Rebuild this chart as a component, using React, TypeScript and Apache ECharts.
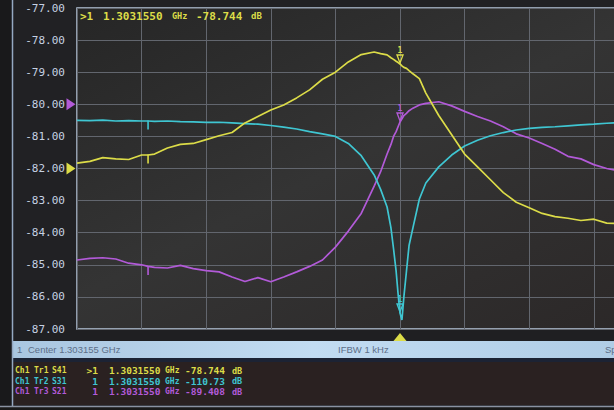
import React, { useEffect, useRef } from "react";
import * as echarts from "echarts";

// Sweep position in horizontal divisions (center = 5 div = 1.303155 GHz)
const freqDiv = [0, 0.2, 0.4, 0.6, 0.8, 1.0, 1.1, 1.2, 1.4, 1.6, 1.8, 2.0, 2.2, 2.4, 2.6, 2.8, 3.0, 3.2, 3.4, 3.6, 3.8, 4.0, 4.2, 4.4, 4.6, 4.7, 4.8, 4.86, 4.9, 4.94, 4.97, 5.0, 5.03, 5.06, 5.1, 5.14, 5.2, 5.3, 5.4, 5.6, 5.8, 6.0, 6.2, 6.4, 6.6, 6.8, 7.0, 7.2, 7.4, 7.6, 7.8, 8.0, 8.2, 8.4];

const s41 = [-81.83, -81.78, -81.66, -81.70, -81.72, -81.58, -81.58, -81.55, -81.36, -81.25, -81.22, -81.10, -80.98, -80.88, -80.58, -80.38, -80.18, -80.02, -79.80, -79.55, -79.22, -79.00, -78.68, -78.45, -78.37, -78.42, -78.46, -78.55, -78.60, -78.66, -78.70, -78.744, -78.80, -78.85, -78.88, -78.95, -79.05, -79.20, -79.65, -80.35, -80.95, -81.55, -81.95, -82.35, -82.75, -83.05, -83.22, -83.40, -83.50, -83.55, -83.62, -83.58, -83.70, -83.72];

const s31 = [-80.50, -80.51, -80.49, -80.52, -80.51, -80.52, -80.52, -80.53, -80.52, -80.54, -80.55, -80.56, -80.56, -80.58, -80.60, -80.62, -80.66, -80.71, -80.77, -80.85, -80.92, -81.00, -81.22, -81.60, -82.20, -82.65, -83.20, -83.85, -84.50, -85.20, -85.90, -86.50, -86.72, -86.00, -85.20, -84.40, -83.85, -82.95, -82.45, -81.95, -81.58, -81.30, -81.12, -80.98, -80.88, -80.80, -80.75, -80.72, -80.70, -80.67, -80.64, -80.62, -80.59, -80.57];

const s21 = [-84.85, -84.80, -84.78, -84.82, -84.95, -85.00, -85.05, -85.08, -85.10, -85.02, -85.12, -85.18, -85.22, -85.38, -85.52, -85.40, -85.53, -85.38, -85.22, -85.05, -84.85, -84.45, -83.95, -83.40, -82.55, -82.10, -81.55, -81.25, -81.00, -80.85, -80.70, -80.55, -80.45, -80.35, -80.28, -80.20, -80.12, -80.02, -79.97, -79.92, -80.05, -80.22, -80.38, -80.52, -80.70, -80.92, -81.05, -81.22, -81.40, -81.62, -81.70, -81.88, -82.00, -82.08];

const yMin = -87;
const yMax = -77;
const marker1Div = 5.0;
const marker2Div = 1.1;
const refS21 = -80;
const refS41 = -82;

const traceNames = ["S41", "S31", "S21"];
const traceIds = ["Tr1", "Tr2", "Tr3"];
const markerIds = [">1", "1", "1"];
const markerFreq = "1.3031550";
const markerVals = ["-78.744", "-110.73", "-89.408"];
const centerText = "Center 1.303155 GHz";
const ifbwText = "IFBW 1 kHz";

const YEL = "#dcdc48";
const CYA = "#3fc6d2";
const MAG = "#b25ad8";
const colors = [YEL, CYA, MAG];

const valueAt = (arr: number[], x: number) => arr[freqDiv.indexOf(x)];

const MONO = '"DejaVu Sans Mono", monospace';

function markerItems(arr: number[], color: string) {
  return [
    {
      coord: [marker1Div, valueAt(arr, marker1Div)],
      symbol: "path://M0,0 L10,0 L5,12 Z",
      symbolSize: [6, 8],
      symbolOffset: [0, -5],
      itemStyle: { color: "rgba(0,0,0,0)", borderColor: color, borderWidth: 1.4 },
      label: { show: true, position: "top", formatter: "1", color, fontSize: 8, fontFamily: MONO, fontWeight: "bold", distance: 0 },
    },
    {
      coord: [marker2Div, valueAt(arr, marker2Div)],
      symbol: "rect",
      symbolSize: [1.6, 9],
      symbolOffset: [0, 4],
      itemStyle: { color },
      label: { show: false },
    },
  ];
}

export default function App() {
  const ref = useRef<HTMLDivElement>(null);
  useEffect(() => {
    const chart = echarts.init(ref.current!, null, { renderer: "svg" });

    const textEls: any[] = [];
    // top marker readout
    const topSegs = [
      { t: ">1", x: 80, f: 11 },
      { t: markerFreq, x: 103, f: 11 },
      { t: "GHz", x: 172, f: 8.5 },
      { t: markerVals[0], x: 196, f: 11 },
      { t: "dB", x: 251, f: 9 },
    ];
    topSegs.forEach((s) =>
      textEls.push({
        type: "text",
        z: 100,
        style: { text: s.t, x: s.x, y: 16, fill: YEL, font: `bold ${s.f}px ${MONO}`, textVerticalAlign: "middle", verticalAlign: "middle" },
      })
    );
    // bottom info rows
    const rowY = [370.5, 381, 391.5];
    traceNames.forEach((nm, i) => {
      const segs = [
        { t: "Ch1", x: 15, a: "left", f: 8 },
        { t: traceIds[i], x: 34, a: "left", f: 8 },
        { t: nm, x: 52, a: "left", f: 8 },
        { t: markerIds[i], x: 98, a: "right", f: 9.5 },
        { t: markerFreq, x: 109, a: "left", f: 9.5 },
        { t: "GHz", x: 165, a: "left", f: 8 },
        { t: markerVals[i], x: 185, a: "left", f: 9.5 },
        { t: "dB", x: 232, a: "left", f: 8.5 },
      ];
      segs.forEach((s) =>
        textEls.push({
          type: "text",
          z: 100,
          style: {
            text: s.t,
            x: s.x,
            y: rowY[i],
            fill: colors[i],
            font: `bold ${s.f}px ${MONO}`,
            textAlign: s.a,
            align: s.a,
            textVerticalAlign: "middle",
            verticalAlign: "middle",
          },
        })
      );
    });

    const statusFont = `9.5px "Liberation Sans", sans-serif`;
    const option: any = {
      animation: false,
      backgroundColor: "#212124",
      grid: {
        show: true,
        left: 77,
        top: 8,
        width: 646,
        height: 321,
        outerBoundsMode: "none",
        containLabel: false,
        backgroundColor: {
          type: "linear",
          x: 0,
          y: 0,
          x2: 1,
          y2: 1,
          colorStops: [
            { offset: 0, color: "#262626" },
            { offset: 0.45, color: "#343434" },
            { offset: 1, color: "#2a2626" },
          ],
        },
        borderColor: "#b8c8dc",
        borderWidth: 1.5,
      },
      xAxis: {
        type: "value",
        min: 0,
        max: 10,
        interval: 1,
        axisLine: { show: false },
        axisTick: { show: false },
        axisLabel: { show: false },
        splitLine: { show: true, lineStyle: { color: "#62666e", width: 1 } },
      },
      yAxis: {
        type: "value",
        min: yMin,
        max: yMax,
        interval: 1,
        axisLine: { show: false },
        axisTick: { show: false },
        axisLabel: {
          formatter: (v: number) => v.toFixed(2),
          color: "#c6d1e3",
          fontFamily: MONO,
          fontSize: 11,
          margin: 12,
        },
        splitLine: { show: true, lineStyle: { color: "#62666e", width: 1 } },
      },
      series: [
        {
          name: traceNames[2],
          type: "line",
          data: freqDiv.map((x, i) => [x, s21[i]]),
          symbol: "none",
          lineStyle: { color: MAG, width: 1.7 },
          z: 3,
          markPoint: {
            silent: true,
            data: [
              ...markerItems(s21, MAG),
              {
                coord: [0, refS21],
                symbol: "path://M0,0 L10,6 L0,12 Z",
                symbolSize: [9, 12],
                symbolOffset: [-6, 0],
                itemStyle: { color: MAG },
                label: { show: false },
              },
            ],
          },
        },
        {
          name: traceNames[1],
          type: "line",
          data: freqDiv.map((x, i) => [x, s31[i]]),
          symbol: "none",
          lineStyle: { color: CYA, width: 1.7 },
          z: 4,
          markPoint: { silent: true, data: markerItems(s31, CYA) },
        },
        {
          name: traceNames[0],
          type: "line",
          data: freqDiv.map((x, i) => [x, s41[i]]),
          symbol: "none",
          lineStyle: { color: YEL, width: 1.7 },
          z: 5,
          markPoint: {
            silent: true,
            data: [
              ...markerItems(s41, YEL),
              {
                coord: [0, refS41],
                symbol: "path://M0,0 L10,6 L0,12 Z",
                symbolSize: [9, 12],
                symbolOffset: [-6, 0],
                itemStyle: { color: YEL },
                label: { show: false },
              },
              {
                coord: [marker1Div, yMin],
                symbol: "path://M5,0 L10,8 L0,8 Z",
                symbolSize: [13, 8],
                symbolOffset: [0, 8],
                itemStyle: { color: YEL },
                label: { show: false },
              },
            ],
          },
        },
      ],
      graphic: [
        { type: "rect", z: -10, shape: { x: 0, y: 0, width: 12, height: 410 }, style: { fill: "#19191b" } },
        { type: "line", z: 50, shape: { x1: 12.5, y1: 0, x2: 12.5, y2: 406 }, style: { stroke: "#95a9c2", lineWidth: 1.5 } },
        { type: "rect", z: -10, shape: { x: 13, y: 330, width: 601, height: 11 }, style: { fill: "#1f1f22" } },
        {
          type: "rect",
          z: 40,
          shape: { x: 13, y: 341, width: 601, height: 17 },
          style: {
            fill: {
              type: "linear",
              x: 0,
              y: 0,
              x2: 1,
              y2: 0,
              colorStops: [
                { offset: 0, color: "#a9c6e0" },
                { offset: 0.5, color: "#c2dcf2" },
                { offset: 1, color: "#b0cde6" },
              ],
            },
          },
        },
        { type: "rect", z: 40, shape: { x: 13, y: 358, width: 601, height: 4 }, style: { fill: "#1c2334" } },
        { type: "rect", z: 40, shape: { x: 13, y: 362, width: 601, height: 43 }, style: { fill: "#2a2121" } },
        { type: "line", z: 50, shape: { x1: 0, y1: 406.5, x2: 614, y2: 406.5 }, style: { stroke: "#8a92a2", lineWidth: 1.5 } },
        { type: "rect", z: 40, shape: { x: 0, y: 407, width: 614, height: 3 }, style: { fill: "#1a1a1a" } },
        { type: "text", z: 100, style: { text: "1", x: 17, y: 349.5, fill: "#5d6f88", font: statusFont, textVerticalAlign: "middle", verticalAlign: "middle" } },
        { type: "text", z: 100, style: { text: centerText, x: 28, y: 349.5, fill: "#5d6f88", font: statusFont, textVerticalAlign: "middle", verticalAlign: "middle" } },
        { type: "text", z: 100, style: { text: ifbwText, x: 338, y: 349.5, fill: "#5d6f88", font: statusFont, textVerticalAlign: "middle", verticalAlign: "middle" } },
        { type: "text", z: 100, style: { text: "Span", x: 605, y: 349.5, fill: "#5d6f88", font: statusFont, textVerticalAlign: "middle", verticalAlign: "middle" } },
        ...textEls,
      ],
    };
    chart.setOption(option);
    return () => chart.dispose();
  }, []);
  return <div ref={ref} style={{ position: "absolute", left: 0, top: 0, width: 614, height: 410 }} />;
}
